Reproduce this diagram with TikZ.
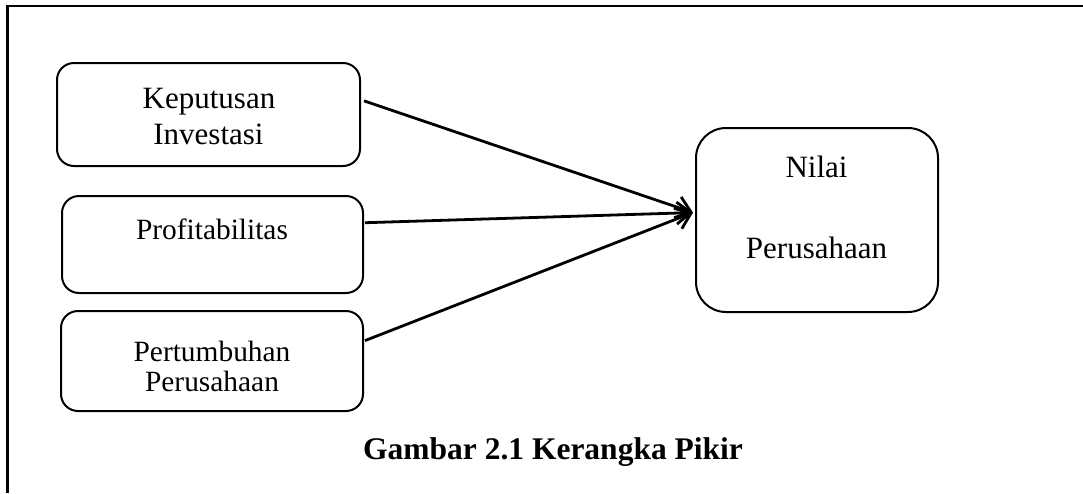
\documentclass[tikz,border=0pt]{standalone}
\usepackage{fontspec}
\setmainfont{Liberation Serif}
\usetikzlibrary{arrows.meta,calc}
\begin{document}
\begin{tikzpicture}[x=1pt,y=-1pt,
  box/.style={draw,line width=2pt,rounded corners=17pt,inner sep=0pt},
  bigbox/.style={draw,line width=2pt,rounded corners=30pt,inner sep=0pt},
  txt/.style={anchor=base,inner sep=0pt,font=\fontsize{29.4}{30}\selectfont},
  bigtxt/.style={anchor=base,inner sep=0pt,font=\fontsize{31}{32}\selectfont},
  captxt/.style={anchor=base,inner sep=0pt,font=\bfseries\fontsize{31.5}{33}\selectfont},
  link/.style={line width=2.8pt,-{Straight Barb[length=14pt,width=22pt]}}]
\useasboundingbox (0,0) rectangle (1083,493);
% frame
\draw[line width=2.5pt] (7.5,493) -- (7.5,6) -- (1083,6);
% boxes
\node[box,minimum width=303pt,minimum height=103pt] (b1) at (208.5,114.5) {};
\node[box,minimum width=301pt,minimum height=97pt] (b2) at (212.5,244.5) {};
\node[box,minimum width=302pt,minimum height=100pt] (b3) at (212,361) {};
\node[bigbox,minimum width=242pt,minimum height=184pt] (nv) at (817,220) {};
% texts
\node[bigtxt] (t1a) at (209,108) {Keputusan};
\node[bigtxt] (t1b) at (208.5,144) {Investasi};
\node[txt] (t2) at (212,239) {Profitabilitas};
\node[txt] (t3a) at (212,361) {Pertumbuhan};
\node[txt] (t3b) at (212,391) {Perusahaan};
\node[bigtxt] (tna) at (816.5,177) {Nilai};
\node[bigtxt] (tnb) at (816.5,258) {Perusahaan};
\node[captxt] (cap) at (553,459) {Gambar 2.1 Kerangka Pikir};
% connector end points
\coordinate (s1) at ($(b1.north east)!0.37!(b1.south east)+(3,0)$);
\coordinate (s2) at ($(b2.north east)!0.28!(b2.south east)+(1,0)$);
\coordinate (s3) at ($(b3.north east)!0.30!(b3.south east)+(1,0)$);
\coordinate (tip) at ($(nv.north west)!0.46!(nv.south west)+(-2,0)$);
\draw[link] (s1) -- (tip);
\draw[link] (s2) -- (tip);
\draw[link] (s3) -- (tip);
\end{tikzpicture}
\end{document}
